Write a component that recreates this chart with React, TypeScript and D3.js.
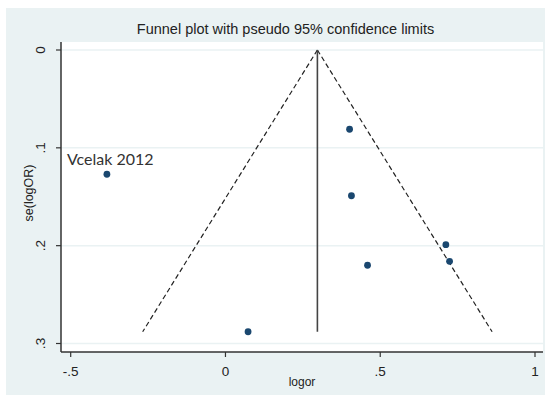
import * as d3 from 'd3'

const studyLabels = ['Vcelak 2012', '', '', '', '', '', '']
const logorValues = [-0.383, 0.401, 0.407, 0.459, 0.712, 0.724, 0.073]
const seValues = [0.127, 0.081, 0.149, 0.220, 0.199, 0.216, 0.288]
const pooledEstimate = 0.297
const xTicks = [-0.5, 0, 0.5, 1]
const xTickLabels = ['-.5', '0', '.5', '1']
const yTicks = [0, 0.1, 0.2, 0.3]
const yTickLabels = ['0', '.1', '.2', '.3']

const W = 550
const H = 403
const plot = { left: 61, right: 543, top: 42, bottom: 352 }

export default function App() {
  const x = d3.scaleLinear().domain([-0.5, 1]).range([70.7, 535])
  const y = d3.scaleLinear().domain([0, 0.3]).range([50, 343.5])

  // funnel limits: pooled ± 1.96 * se, from se = 0 down to largest se
  const seMax = d3.max(seValues) as number
  const line = d3.line<[number, number]>().x(d => x(d[0])).y(d => y(d[1]))
  const leftLimit = line([[pooledEstimate, 0], [pooledEstimate - 1.96 * seMax, seMax]])
  const rightLimit = line([[pooledEstimate, 0], [pooledEstimate + 1.96 * seMax, seMax]])

  const font = '"Liberation Sans", Arial, sans-serif'

  return (
    <svg width={W} height={H} style={{ position: 'absolute', left: 0, top: 0, background: '#fff' }}>
      <rect x={6} y={8} width={539} height={387} fill="#eaf2f3" />
      <rect x={plot.left} y={plot.top} width={plot.right - plot.left} height={plot.bottom - plot.top} fill="#fff" />

      {/* gridlines */}
      {yTicks.map(t => (
        <line key={'g' + t} x1={plot.left} x2={plot.right} y1={y(t)} y2={y(t)} stroke="#eaf2f3" strokeWidth={1.5} />
      ))}

      <text x={285.5} y={34} textAnchor="middle" fontFamily={font} fontSize={14.5} fill="#222">
        Funnel plot with pseudo 95% confidence limits
      </text>

      {/* funnel */}
      <path d={leftLimit ?? ''} fill="none" stroke="#222" strokeWidth={1.2} strokeDasharray="5,3" />
      <path d={rightLimit ?? ''} fill="none" stroke="#222" strokeWidth={1.2} strokeDasharray="5,3" />
      <line x1={x(pooledEstimate)} x2={x(pooledEstimate)} y1={y(0)} y2={y(seMax)} stroke="#444" strokeWidth={1.6} />

      {/* points */}
      {logorValues.map((v, i) => (
        <circle key={i} cx={x(v)} cy={y(seValues[i])} r={3.4} fill="#1a476f" />
      ))}
      {logorValues.map((v, i) =>
        studyLabels[i] ? (
          <text key={'l' + i} x={x(v) - 40} y={y(seValues[i]) - 9} fontFamily="Lato, 'Open Sans', sans-serif" fontSize={16} fill="#333">
            {studyLabels[i]}
          </text>
        ) : null
      )}

      {/* axes */}
      <line x1={plot.left} x2={plot.left} y1={plot.top} y2={plot.bottom} stroke="#333" strokeWidth={1.5} />
      <line x1={plot.left} x2={plot.right} y1={plot.bottom} y2={plot.bottom} stroke="#333" strokeWidth={1.5} />
      {yTicks.map((t, i) => (
        <g key={'y' + t}>
          <line x1={plot.left - 5} x2={plot.left} y1={y(t)} y2={y(t)} stroke="#333" strokeWidth={1.2} />
          <text transform={`translate(45,${y(t)}) rotate(-90)`} textAnchor="middle" fontFamily={font} fontSize={13.5} fill="#222">
            {yTickLabels[i]}
          </text>
        </g>
      ))}
      {xTicks.map((t, i) => (
        <g key={'x' + t}>
          <line x1={x(t)} x2={x(t)} y1={plot.bottom} y2={plot.bottom + 5} stroke="#333" strokeWidth={1.2} />
          <text x={x(t)} y={376} textAnchor="middle" fontFamily={font} fontSize={13.5} fill="#222">
            {xTickLabels[i]}
          </text>
        </g>
      ))}
      <text x={(plot.left + plot.right) / 2} y={386} textAnchor="middle" fontFamily={font} fontSize={12} fill="#222">
        logor
      </text>
      <text transform={`translate(33,193) rotate(-90)`} textAnchor="middle" fontFamily={font} fontSize={12.5} fill="#222">
        se(logOR)
      </text>
    </svg>
  )
}
